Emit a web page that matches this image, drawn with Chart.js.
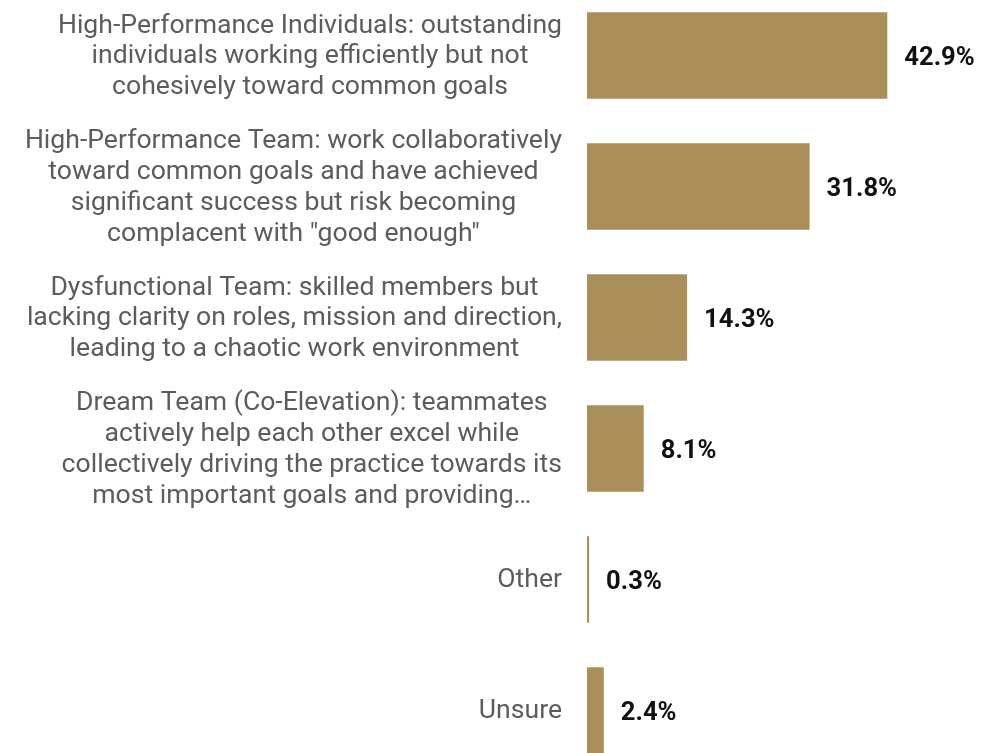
<!DOCTYPE html>
<html>
<head>
<meta charset="utf-8">
<script src="https://cdn.jsdelivr.net/npm/chart.js@4"></script>
<style>
  html, body { margin: 0; padding: 0; background: #fff; overflow: hidden; }
  #wrap { position: absolute; left: 0; top: -10px; width: 999px; height: 786px; }
</style>
</head>
<body>
<div id="wrap"><canvas id="teamChart"></canvas></div>
<script>
// answer categories, one array of lines per label
var categories = [
    ['High-Performance Individuals: outstanding', 'individuals working efficiently but not', 'cohesively toward common goals'],
    ['High-Performance Team: work collaboratively', 'toward common goals and have achieved', 'significant success but risk becoming', 'complacent with "good enough"'],
    ['Dysfunctional Team: skilled members but', 'lacking clarity on roles, mission and direction,', 'leading to a chaotic work environment'],
    ['Dream Team (Co-Elevation): teammates', 'actively help each other excel while', 'collectively driving the practice towards its', 'most important goals and providing\u2026'],
    ['Other'],
    ['Unsure']
]
var shares = [42.9, 31.8, 14.3, 8.1, 0.3, 2.4] // percent of respondents

var barColor = '#ab8f5a'
var labelRight = 562   // right edge of the category text
var axisLeft = 587     // where the bars start

// category text: each label centred on its own widest line
var categoryText = {
    id: 'categoryText',
    afterDraw: function (chart) {
        var ctx = chart.ctx
        var yScale = chart.scales.y
        ctx.save()
        ctx.font = '26.6px Roboto'
        ctx.fillStyle = '#5c5c5c'
        ctx.textAlign = 'center'
        ctx.textBaseline = 'alphabetic'
        var lineH = 30.8
        for (var i = 0; i < categories.length; i++) {
            var lines = categories[i]
            var widest = 0
            lines.forEach(function (l) { widest = Math.max(widest, ctx.measureText(l).width) })
            var cx = labelRight - widest / 2
            var cy = yScale.getPixelForTick(i)
            var top = cy + 7.8 - (lines.length - 1) * lineH / 2
            for (var j = 0; j < lines.length; j++) {
                ctx.fillText(lines[j], cx, top + j * lineH)
            }
        }
        ctx.restore()
    }
}

// bold percentage to the right of each bar
var valueText = {
    id: 'valueText',
    afterDatasetsDraw: function (chart) {
        var ctx = chart.ctx
        var meta = chart.getDatasetMeta(0)
        ctx.save()
        ctx.font = 'bold 25.6px Roboto'
        ctx.fillStyle = '#111'
        ctx.textAlign = 'left'
        ctx.textBaseline = 'alphabetic'
        meta.data.forEach(function (bar, i) {
            ctx.fillText(shares[i].toFixed(1) + '%', bar.x + 17, bar.y + 9.8)
        })
        ctx.restore()
    }
}

var chart = new Chart(document.getElementById('teamChart'), {
    type: 'bar',
    data: {
        labels: categories,
        datasets: [{
            data: shares,
            backgroundColor: barColor,
            borderWidth: 0,
            categoryPercentage: 1,
            barPercentage: 0.66
        }]
    },
    options: {
        indexAxis: 'y',
        responsive: true,
        maintainAspectRatio: false,
        animation: false,
        layout: { padding: { left: 0, right: 62, top: 0, bottom: 0 } },
        scales: {
            x: {
                display: false,
                min: 0,
                max: 50
            },
            y: {
                grid: { display: false },
                border: { display: false },
                ticks: { display: false },
                afterFit: function (scale) { scale.width = axisLeft }
            }
        },
        plugins: {
            legend: { display: false },
            tooltip: { enabled: false }
        }
    },
    plugins: [categoryText, valueText]
})
</script>
</body>
</html>
